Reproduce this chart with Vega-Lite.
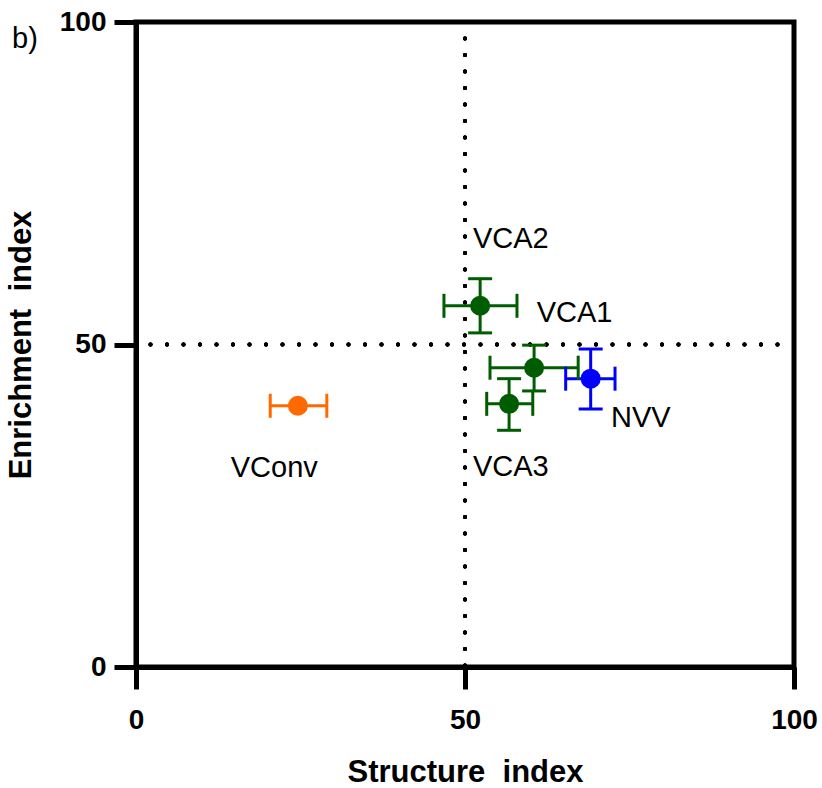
{
  "$schema": "https://vega.github.io/schema/vega-lite/v6.json",
  "autosize": "none",
  "width": 658,
  "height": 645,
  "padding": {"left": 136, "top": 22, "right": 28, "bottom": 121},
  "background": "white",
  "title": {
    "text": "b)",
    "anchor": "start",
    "frame": "group",
    "dx": -124,
    "dy": 50,
    "fontSize": 29,
    "fontWeight": "normal",
    "font": "Liberation Sans",
    "color": "black"
  },
  "config": {
    "view": {"stroke": "black", "strokeWidth": 5},
    "axis": {
      "grid": false,
      "labelFlush": false,
      "labelOverlap": false,
      "domainColor": "black",
      "domainWidth": 5,
      "tickColor": "black",
      "tickWidth": 5,
      "tickSize": 22,
      "labelColor": "black",
      "labelFont": "Liberation Sans",
      "labelFontWeight": "bold",
      "labelFontSize": 28,
      "titleColor": "black",
      "titleFont": "Liberation Sans",
      "titleFontWeight": "bold",
      "titleFontSize": 31
    }
  },
  "data": {
    "values": [
      {"site": "VConv", "x": 24.6, "xLo": 20.4, "xHi": 29.0, "y": 40.5, "yLo": null, "yHi": null, "lx": 14.4, "ly": 30.9},
      {"site": "VCA2", "x": 52.3, "xLo": 46.8, "xHi": 57.9, "y": 56.0, "yLo": 51.8, "yHi": 60.2, "lx": 51.2, "ly": 66.4},
      {"site": "VCA1", "x": 60.5, "xLo": 53.8, "xHi": 67.2, "y": 46.4, "yLo": 42.8, "yHi": 49.9, "lx": 60.9, "ly": 54.9},
      {"site": "VCA3", "x": 56.7, "xLo": 53.3, "xHi": 60.3, "y": 40.8, "yLo": 36.7, "yHi": 44.7, "lx": 51.2, "ly": 31.0},
      {"site": "NVV", "x": 69.1, "xLo": 65.3, "xHi": 72.8, "y": 44.7, "yLo": 40.0, "yHi": 49.3, "lx": 72.2, "ly": 38.6}
    ]
  },
  "encoding": {
    "color": {
      "field": "site",
      "type": "nominal",
      "legend": null,
      "scale": {
        "domain": ["VConv", "VCA1", "VCA2", "VCA3", "NVV"],
        "range": ["#FF6A00", "#005C00", "#005C00", "#005C00", "#0000FF"]
      }
    }
  },
  "layer": [
    {
      "mark": {"type": "rule", "color": "black", "strokeWidth": 4, "strokeDash": [0, 16.5], "strokeCap": "round"},
      "encoding": {
        "x": {"datum": 50, "type": "quantitative",
          "scale": {"domain": [0, 100], "nice": false},
          "axis": {"values": [0, 50, 100], "title": "Structure\u00a0 index", "labelPadding": 17, "titlePadding": 23}
        },
        "color": {"value": "black"}
      }
    },
    {
      "mark": {"type": "rule", "color": "black", "strokeWidth": 4, "strokeDash": [0, 16.5], "strokeCap": "round"},
      "encoding": {
        "y": {"datum": 50, "type": "quantitative",
          "scale": {"domain": [0, 100], "nice": false},
          "axis": {"values": [0, 50, 100], "title": "Enrichment\u00a0 index", "labelPadding": 8, "titlePadding": 22}
        },
        "color": {"value": "black"}
      }
    },
    {
      "mark": {"type": "rule", "strokeWidth": 3},
      "encoding": {
        "x": {"field": "xLo", "type": "quantitative"},
        "x2": {"field": "xHi"},
        "y": {"field": "y", "type": "quantitative"}
      }
    },
    {
      "mark": {"type": "rule", "strokeWidth": 3},
      "encoding": {
        "x": {"field": "x", "type": "quantitative"},
        "y": {"field": "yLo", "type": "quantitative"},
        "y2": {"field": "yHi"}
      }
    },
    {
      "mark": {"type": "tick", "orient": "vertical", "size": 24, "thickness": 3, "opacity": 1},
      "encoding": {
        "x": {"field": "xLo", "type": "quantitative"},
        "y": {"field": "y", "type": "quantitative"}
      }
    },
    {
      "mark": {"type": "tick", "orient": "vertical", "size": 24, "thickness": 3, "opacity": 1},
      "encoding": {
        "x": {"field": "xHi", "type": "quantitative"},
        "y": {"field": "y", "type": "quantitative"}
      }
    },
    {
      "mark": {"type": "tick", "orient": "horizontal", "size": 24, "thickness": 3, "opacity": 1},
      "encoding": {
        "x": {"field": "x", "type": "quantitative"},
        "y": {"field": "yLo", "type": "quantitative"}
      }
    },
    {
      "mark": {"type": "tick", "orient": "horizontal", "size": 24, "thickness": 3, "opacity": 1},
      "encoding": {
        "x": {"field": "x", "type": "quantitative"},
        "y": {"field": "yHi", "type": "quantitative"}
      }
    },
    {
      "mark": {"type": "point", "shape": "circle", "filled": true, "opacity": 1, "size": 400},
      "encoding": {
        "x": {"field": "x", "type": "quantitative"},
        "y": {"field": "y", "type": "quantitative"}
      }
    },
    {
      "mark": {"type": "text", "align": "left", "baseline": "middle", "fontSize": 29, "font": "Liberation Sans"},
      "encoding": {
        "x": {"field": "lx", "type": "quantitative"},
        "y": {"field": "ly", "type": "quantitative"},
        "text": {"field": "site"},
        "color": {"value": "black"}
      }
    }
  ]
}
